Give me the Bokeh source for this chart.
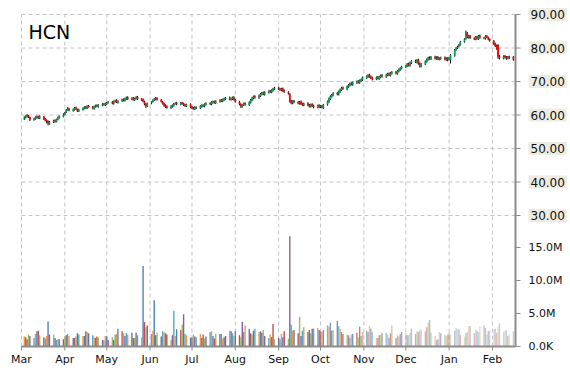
import math
import pandas as pd
from bokeh.plotting import figure
from bokeh.models import Range1d, Label, ColumnDataSource
from bokeh.embed import file_html
from bokeh.resources import INLINE

symbol = "HCN"

month_starts = ["2014-03-01", "2014-04-01", "2014-05-01", "2014-06-01", "2014-07-01", "2014-08-01",
                "2014-09-01", "2014-10-01", "2014-11-01", "2014-12-01", "2015-01-01", "2015-02-01"]

# daily open / high / low / close (USD) and volume (millions), by month
mar = dict(
    o=[58.9, 59.3, 59.5, 59.8, 59.3, 58.5, 58.9, 59.2, 59.6, 59.0, 59.5, 58.9, 58.5, 58.2, 57.4, 57.8, 58.4, 58.0, 58.6, 59.1, 59.5],
    h=[59.6, 59.9, 60.3, 60.0, 59.5, 59.2, 59.6, 59.8, 59.8, 59.9, 59.7, 59.1, 58.7, 58.4, 58.2, 58.6, 58.7, 58.9, 59.5, 59.9, 60.5],
    l=[58.5, 59.0, 59.2, 59.1, 58.2, 58.3, 58.6, 58.9, 58.8, 58.8, 58.5, 58.1, 57.5, 56.9, 57.1, 57.6, 57.7, 57.8, 58.4, 58.9, 59.3],
    c=[59.2, 59.6, 59.9, 59.4, 58.6, 58.9, 59.3, 59.5, 59.1, 59.6, 58.8, 58.4, 57.9, 57.5, 57.9, 58.3, 58.1, 58.7, 59.2, 59.6, 60.1],
    v=[1.5, 1.4, 1.1, 1.8, 1.6, 1.3, 1.9, 2.3, 2.4, 1.7, 1.4, 1.2, 1.6, 3.8, 1.8, 1.8, 1.3, 1.0, 1.1, 1.1, 1.1])
apr = dict(
    o=[60.1, 60.8, 61.6, 61.9, 61.3, 61.6, 62.2, 61.7, 61.1, 61.5, 61.9, 62.4, 62.0, 62.7, 62.5, 61.9, 62.4, 62.9, 62.5, 62.8, 63.3, 62.9],
    h=[60.9, 61.8, 62.3, 62.2, 61.9, 62.4, 62.5, 61.9, 61.9, 62.3, 62.6, 62.7, 62.9, 63.0, 62.7, 62.8, 63.1, 63.2, 63.2, 63.5, 63.6, 63.7],
    l=[59.9, 60.6, 61.3, 61.1, 61.0, 61.3, 61.5, 60.9, 60.9, 61.3, 61.7, 61.8, 61.8, 62.2, 61.7, 61.6, 62.2, 62.3, 62.2, 62.6, 62.8, 62.7],
    c=[60.6, 61.5, 61.9, 61.4, 61.7, 62.1, 61.8, 61.2, 61.6, 62.0, 62.3, 62.1, 62.6, 62.4, 62.0, 62.5, 62.8, 62.6, 62.9, 63.2, 63.0, 63.4],
    v=[1.5, 1.7, 1.9, 1.6, 1.3, 1.3, 1.5, 2.0, 1.8, 1.6, 1.6, 2.3, 2.2, 2.0, 1.7, 1.4, 1.3, 1.5, 1.4, 1.0, 0.9, 1.6])
may = dict(
    o=[63.3, 63.7, 63.9, 63.4, 64.0, 64.4, 63.7, 64.2, 64.7, 64.3, 64.8, 65.3, 64.7, 65.1, 64.5, 64.8, 65.4, 64.9, 64.6, 64.0, 63.3, 62.7],
    h=[63.9, 64.2, 64.2, 64.3, 64.6, 64.7, 64.4, 64.9, 64.9, 65.2, 65.5, 65.6, 65.3, 65.4, 65.2, 65.6, 65.7, 65.1, 64.9, 64.3, 63.6, 63.7],
    l=[63.0, 63.4, 63.2, 63.1, 63.7, 63.6, 63.4, 63.9, 64.1, 64.0, 64.5, 64.5, 64.4, 64.3, 64.2, 64.6, 64.5, 64.2, 63.8, 62.9, 62.1, 62.4],
    c=[63.6, 63.9, 63.5, 64.0, 64.3, 63.8, 64.1, 64.6, 64.4, 64.9, 65.2, 64.8, 65.0, 64.6, 64.9, 65.3, 64.8, 64.5, 64.1, 63.2, 62.6, 63.4],
    v=[1.5, 1.0, 1.4, 1.0, 1.8, 1.9, 2.7, 2.3, 2.0, 1.6, 2.1, 1.8, 2.1, 1.3, 1.3, 2.1, 1.7, 1.4, 12.2, 3.7, 2.9, 3.2])
jun = dict(
    o=[63.5, 63.9, 64.5, 64.7, 65.1, 64.5, 63.9, 63.5, 62.9, 62.6, 62.1, 62.5, 62.8, 63.4, 63.6, 63.1, 63.7, 63.5, 63.1, 62.6, 63.2],
    h=[64.1, 64.7, 65.1, 65.4, 65.3, 64.8, 64.2, 63.7, 63.2, 62.9, 62.9, 63.2, 63.6, 63.8, 63.9, 63.9, 63.9, 63.7, 63.3, 63.4, 63.5],
    l=[63.2, 63.7, 64.2, 64.4, 64.3, 63.7, 63.1, 62.5, 62.1, 61.9, 61.8, 62.2, 62.5, 63.1, 62.9, 62.9, 63.1, 62.7, 62.4, 62.4, 62.0],
    c=[63.8, 64.4, 64.8, 65.0, 64.6, 64.0, 63.4, 62.8, 62.5, 62.2, 62.6, 62.9, 63.3, 63.5, 63.2, 63.6, 63.4, 63.0, 62.7, 63.1, 62.4],
    v=[1.9, 2.4, 7.0, 1.7, 2.1, 1.5, 2.3, 2.2, 2.0, 1.8, 1.0, 1.7, 5.4, 1.6, 2.6, 2.5, 3.3, 4.9, 1.9, 1.7, 1.4])
jul = dict(
    o=[62.5, 62.1, 61.8, 62.4, 62.0, 62.5, 63.0, 62.6, 63.1, 63.6, 63.2, 63.7, 64.1, 63.6, 64.0, 64.5, 64.1, 64.5, 64.8, 65.2, 64.6, 64.8, 65.3],
    h=[62.7, 62.4, 62.6, 62.6, 62.9, 63.2, 63.2, 63.5, 63.8, 63.8, 64.1, 64.3, 64.3, 64.4, 64.7, 64.8, 64.9, 65.2, 65.4, 65.5, 65.2, 65.5, 65.6],
    l=[61.7, 61.6, 61.5, 61.8, 61.8, 62.2, 62.4, 62.3, 62.8, 63.0, 62.9, 63.4, 63.4, 63.3, 63.7, 63.9, 63.8, 64.2, 64.5, 64.4, 64.3, 64.5, 64.3],
    c=[62.0, 61.9, 62.3, 62.1, 62.6, 62.9, 62.7, 63.2, 63.5, 63.3, 63.8, 64.0, 63.7, 64.1, 64.4, 64.2, 64.6, 64.9, 65.1, 64.7, 64.9, 65.2, 64.6],
    v=[1.3, 1.8, 1.5, 1.4, 1.9, 1.3, 1.8, 1.2, 1.5, 2.2, 2.3, 1.6, 1.2, 1.9, 1.9, 1.9, 1.2, 1.4, 1.6, 2.4, 2.3, 2.0, 1.6])
aug = dict(
    o=[64.5, 63.9, 63.3, 62.5, 63.0, 63.5, 63.0, 63.7, 64.4, 65.0, 65.6, 65.1, 65.7, 66.2, 66.7, 66.1, 66.7, 67.2, 66.8, 67.3, 67.7],
    h=[64.8, 64.2, 63.5, 63.2, 63.7, 63.8, 64.1, 64.8, 65.4, 65.8, 65.9, 66.1, 66.6, 66.9, 67.0, 67.1, 67.4, 67.5, 67.7, 68.1, 68.4],
    l=[63.7, 62.9, 62.1, 62.2, 62.7, 62.8, 62.7, 63.4, 64.1, 64.7, 64.9, 64.8, 65.4, 65.9, 65.9, 65.8, 66.4, 66.6, 66.5, 67.0, 67.4],
    c=[64.0, 63.2, 62.6, 62.9, 63.4, 63.1, 63.8, 64.5, 65.1, 65.5, 65.2, 65.8, 66.3, 66.6, 66.2, 66.8, 67.1, 66.9, 67.4, 67.8, 68.0],
    v=[2.3, 1.7, 1.4, 3.7, 2.2, 3.2, 2.7, 2.0, 1.8, 2.4, 2.7, 2.2, 2.3, 2.1, 2.5, 1.6, 1.3, 1.8, 1.4, 3.4, 1.1])
sep = dict(
    o=[68.1, 67.8, 67.4, 67.9, 67.3, 66.8, 66.2, 64.1, 63.5, 64.2, 63.9, 63.4, 64.0, 63.4, 62.9, 63.5, 63.0, 62.5, 63.2, 62.8, 62.3, 62.9],
    h=[68.4, 68.1, 68.1, 68.2, 67.6, 67.1, 66.5, 64.5, 64.4, 64.5, 64.2, 64.2, 64.3, 63.7, 63.7, 63.8, 63.3, 63.4, 63.5, 63.1, 63.1, 63.2],
    l=[67.5, 67.2, 67.1, 66.9, 66.6, 66.1, 63.7, 63.2, 63.2, 63.5, 63.2, 63.1, 63.0, 62.7, 62.6, 62.6, 62.3, 62.2, 62.4, 62.0, 62.0, 62.1],
    c=[67.9, 67.5, 67.8, 67.2, 66.9, 66.4, 64.0, 63.6, 64.1, 63.8, 63.5, 63.9, 63.3, 63.0, 63.4, 62.9, 62.6, 63.1, 62.7, 62.4, 62.8, 62.5],
    v=[1.3, 1.1, 1.9, 1.4, 2.3, 1.2, 16.7, 3.3, 2.4, 2.5, 2.0, 4.5, 1.6, 2.4, 2.9, 2.2, 2.5, 2.0, 2.7, 2.7, 2.8, 2.5])
oct_ = dict(
    o=[62.4, 62.7, 62.1, 63.1, 63.9, 64.8, 65.5, 65.9, 66.6, 66.1, 66.9, 67.5, 68.2, 67.7, 68.4, 68.8, 69.5, 69.0, 69.6, 70.1, 69.6, 70.2, 70.5],
    h=[62.9, 63.0, 63.3, 64.3, 65.2, 65.9, 66.3, 66.8, 66.9, 67.3, 67.9, 68.4, 68.5, 68.8, 69.2, 69.7, 69.8, 70.0, 70.3, 70.4, 70.6, 70.9, 71.5],
    l=[62.1, 62.0, 61.8, 62.8, 63.6, 64.5, 65.2, 65.6, 65.9, 65.8, 66.6, 67.2, 67.5, 67.4, 68.1, 68.5, 68.8, 68.7, 69.3, 69.4, 69.3, 69.9, 70.2],
    c=[62.6, 62.2, 63.0, 64.0, 64.9, 65.6, 66.0, 66.5, 66.2, 67.0, 67.6, 68.1, 67.8, 68.5, 68.9, 69.4, 69.1, 69.7, 70.0, 69.7, 70.3, 70.6, 71.2],
    v=[2.3, 2.2, 2.5, 3.2, 3.0, 3.6, 2.4, 2.5, 3.9, 3.1, 2.7, 2.2, 1.9, 1.8, 1.7, 1.3, 1.8, 1.9, 2.1, 1.4, 3.0, 1.6, 2.2])
nov = dict(
    o=[71.0, 71.4, 72.0, 71.5, 71.1, 70.6, 71.3, 70.8, 71.3, 71.9, 71.4, 71.9, 72.4, 71.8, 72.4, 72.9, 72.3, 73.0, 73.5, 73.9],
    h=[71.8, 72.2, 72.3, 71.8, 71.4, 71.5, 71.6, 71.7, 72.1, 72.2, 72.3, 72.6, 72.7, 72.8, 73.1, 73.2, 73.4, 73.9, 74.3, 74.7],
    l=[70.7, 71.1, 71.1, 70.7, 70.3, 70.4, 70.6, 70.5, 71.0, 71.2, 71.1, 71.6, 71.6, 71.5, 72.1, 72.1, 72.0, 72.7, 73.2, 73.6],
    c=[71.5, 71.9, 71.4, 71.0, 70.7, 71.2, 70.9, 71.4, 71.8, 71.5, 72.0, 72.3, 71.9, 72.5, 72.8, 72.4, 73.1, 73.6, 74.0, 74.4],
    v=[2.4, 2.2, 3.1, 2.7, 2.2, 1.3, 1.3, 1.7, 1.8, 2.0, 2.1, 1.8, 1.3, 2.0, 3.2, 1.3, 1.7, 1.5, 1.9, 2.2])
dec = dict(
    o=[74.3, 74.5, 75.3, 74.7, 75.5, 76.2, 75.7, 76.5, 75.4, 74.5, 75.1, 75.9, 76.5, 77.2, 76.7, 77.4, 76.8, 77.3, 76.6, 76.8, 77.2, 76.5, 77.0],
    h=[74.9, 75.5, 75.6, 75.9, 76.4, 76.5, 76.7, 76.8, 75.7, 75.5, 76.3, 76.9, 77.4, 77.5, 77.6, 77.7, 77.5, 77.6, 77.2, 77.4, 77.5, 77.2, 77.3],
    l=[74.0, 74.3, 74.5, 74.4, 75.2, 75.5, 75.4, 75.0, 74.2, 74.2, 74.9, 75.6, 76.2, 76.5, 76.4, 76.6, 76.5, 76.4, 76.3, 76.5, 76.3, 76.2, 76.0],
    c=[74.6, 75.2, 74.8, 75.6, 76.1, 75.8, 76.4, 75.3, 74.6, 75.2, 76.0, 76.6, 77.1, 76.8, 77.3, 76.9, 77.2, 76.7, 76.9, 77.1, 76.6, 76.9, 76.4],
    v=[2.1, 1.7, 1.7, 2.1, 2.7, 1.9, 2.3, 2.2, 2.4, 2.6, 2.3, 2.9, 3.6, 4.0, 2.1, 1.6, 1.0, 1.1, 2.2, 2.0, 1.7, 1.6, 1.8])
jan = dict(
    o=[76.6, 76.4, 77.7, 79.5, 80.0, 80.5, 81.0, 81.9, 82.8, 84.5, 83.1, 83.7, 82.9, 82.6, 83.4, 82.7, 83.7, 83.0, 82.8, 83.6, 83.1, 82.7],
    h=[77.3, 78.2, 79.7, 80.3, 80.7, 81.2, 82.1, 82.9, 85.2, 84.8, 83.9, 83.9, 83.2, 83.6, 83.6, 83.9, 84.0, 83.3, 83.8, 83.9, 83.4, 82.9],
    l=[76.3, 75.4, 77.4, 79.2, 79.7, 80.2, 80.7, 81.6, 82.5, 82.9, 82.8, 82.7, 82.4, 82.3, 82.5, 82.4, 82.8, 82.6, 82.5, 83.0, 82.3, 81.9],
    c=[77.0, 77.9, 79.4, 79.9, 80.4, 80.9, 81.8, 82.6, 84.4, 83.2, 83.6, 83.0, 82.7, 83.3, 82.8, 83.6, 83.1, 82.9, 83.5, 83.2, 82.6, 82.2],
    v=[2.1, 1.8, 2.4, 2.8, 2.7, 2.6, 1.8, 1.5, 2.0, 2.2, 3.1, 3.1, 2.0, 2.6, 2.4, 2.2, 3.0, 3.2, 2.8, 1.8, 2.3, 2.4])
feb = dict(
    o=[82.1, 81.3, 80.7, 80.9, 77.5, 76.9, 77.6, 77.3, 76.8, 77.4, 77.3],
    h=[82.4, 81.6, 81.0, 81.2, 77.9, 77.8, 77.9, 77.6, 77.6, 77.7, 77.6],
    l=[80.9, 80.3, 79.5, 76.8, 76.6, 76.6, 76.9, 76.5, 76.6, 76.7, 76.2],
    c=[81.2, 80.6, 79.8, 77.4, 77.0, 77.5, 77.2, 76.9, 77.3, 77.0, 76.5],
    v=[2.6, 2.7, 2.1, 2.9, 3.5, 2.2, 2.4, 2.5, 1.6, 1.8, 2.3])

months = [mar, apr, may, jun, jul, aug, sep, oct_, nov, dec, jan, feb]

price_ticks = [30, 40, 50, 60, 70, 80, 90]
volume_ticks = [0, 5e6, 10e6, 15e6]
volume_tick_labels = ["0.0K", "5.0M", "10.0M", "15.0M"]
price_lo, price_hi = -9.1, 90.0
vol_hi = 50.3e6

volume_palette = ["#4F81BD", "#C0504D", "#9BBB59", "#8064A2", "#4BACC6", "#F79646"]
palette_offset = 5
month_alpha = [1.0, 1.0, 1.0, 1.0, 1.0, 1.0, 1.0, 0.8, 0.62, 0.5, 0.42, 0.38]
up_color, down_color = "#00A651", "#FF0000"
axis_color = "#8c8c8c"
grid_color = "#c4c4c4"
label_bg = "#EEECE1"
text_color = "#111111"
FONT = "DejaVu Sans"

# ---- layout (pixels) ----
W, H = 568, 368
PX_LEFT, PX_TOP = 21, 14          # plot area top-left
PX_AXIS_X, PX_AXIS_Y = 515, 346   # right value axis / bottom date axis

t_start = pd.Timestamp("2014-03-01")
t_axis = pd.Timestamp("2015-02-17 12:00")
time_per_px = (t_axis - t_start) / (PX_AXIS_X - PX_LEFT)
ppu = (PX_AXIS_Y - PX_TOP) / (price_hi - price_lo)
vpp = vol_hi / (PX_AXIS_Y - PX_TOP)


def price_at(py):
    return price_hi - (py - PX_TOP) / ppu


def time_at(px):
    return t_start + (px - PX_LEFT) * time_per_px


x_range = Range1d(t_start - PX_LEFT * time_per_px, t_axis + (W - PX_AXIS_X) * time_per_px)
y_range = Range1d(price_at(H), price_at(0))
vol_range = Range1d(-(H - PX_AXIS_Y) * vpp, vol_hi + PX_TOP * vpp)

# ---- assemble ----
X, O, Hh, L, C, TOP, BOT, CCOL = [], [], [], [], [], [], [], []
V, VCOL, VALPHA = [], [], []
k = 0
for mi, (start, m) in enumerate(zip(month_starts, months)):
    s = pd.Timestamp(start)
    days = pd.bdate_range(s, s + pd.offsets.MonthEnd(0))[:len(m["c"])]
    for d, o, h, l, c, v in zip(days, m["o"], m["h"], m["l"], m["c"], m["v"]):
        X.append(d)
        O.append(o); Hh.append(h); L.append(l); C.append(c)
        TOP.append(max(o, c)); BOT.append(min(o, c))
        CCOL.append(up_color if c >= o else down_color)
        V.append(v * 1e6)
        VCOL.append(volume_palette[(k + palette_offset) % len(volume_palette)])
        VALPHA.append(month_alpha[mi])
        k += 1

src = ColumnDataSource(dict(x=X, o=O, h=Hh, l=L, c=C, top=TOP, bot=BOT, col=CCOL,
                            v=V, vcol=VCOL, valpha=VALPHA))
month_dates = [pd.Timestamp(s) for s in month_starts]
n_m, n_p = len(month_dates), len(price_ticks)

DAY = 86400000
p = figure(width=W, height=H, x_axis_location=None, y_axis_location=None,
           x_range=x_range, y_range=y_range,
           output_backend="svg", toolbar_location=None,
           min_border_left=0, min_border_top=0, min_border_right=0, min_border_bottom=0)
p.extra_y_ranges = {"vol": vol_range}
p.outline_line_color = None
p.background_fill_color = "white"
p.border_fill_color = "white"
p.xgrid.visible = False
p.ygrid.visible = False

# dashed grid: month verticals and price horizontals
p.segment(x0=month_dates, x1=month_dates, y0=[price_lo] * n_m, y1=[price_hi] * n_m,
          line_color=grid_color, line_dash="4 3", line_width=1)
p.segment(x0=[t_start] * n_p, x1=[t_axis] * n_p, y0=price_ticks, y1=price_ticks,
          line_color=grid_color, line_dash="4 3", line_width=1)

# volume bars
p.vbar(x="x", width=1.0 * DAY, top="v", bottom=0, y_range_name="vol", source=src,
       fill_color="vcol", fill_alpha="valpha", line_color=None)
# candles
p.segment(x0="x", y0="l", x1="x", y1="h", source=src, line_color="black", line_width=1)
p.vbar(x="x", width=1.25 * DAY, top="top", bottom="bot", source=src,
       fill_color="col", line_color=None)

# axes lines
p.segment(x0=[t_start, t_axis], x1=[t_axis, t_axis], y0=[price_lo, price_lo], y1=[price_lo, price_hi],
          line_color=axis_color, line_width=2)
# tick marks
p.ray(x=[t_axis] * n_p, y=price_ticks, length=5, length_units="screen",
      angle=0, line_color=axis_color, line_width=1)
p.ray(x=[t_axis] * len(volume_ticks), y=volume_ticks, length=5, length_units="screen",
      angle=0, line_color=axis_color, line_width=1, y_range_name="vol")
p.ray(x=month_dates, y=[price_lo] * n_m, length=4, length_units="screen",
      angle=-math.pi / 2, line_color=axis_color, line_width=1)

# tick labels
for t in price_ticks:
    p.add_layout(Label(x=t_axis, y=t, x_offset=13, text=f"{t:.2f}",
                       text_align="left", text_baseline="middle",
                       text_font=FONT, text_font_size="12px", text_color=text_color,
                       background_fill_color=label_bg, padding=2))
for t, s in zip(volume_ticks, volume_tick_labels):
    p.add_layout(Label(x=t_axis, y=t, x_offset=13, y_range_name="vol", text=s,
                       text_align="left", text_baseline="middle",
                       text_font=FONT, text_font_size="11px", text_color=text_color))
for d in month_dates:
    p.add_layout(Label(x=d, y=price_at(PX_AXIS_Y + 13), text=d.strftime("%b"),
                       text_align="center", text_baseline="middle",
                       text_font=FONT, text_font_size="11px", text_color=text_color))

# ticker symbol
p.add_layout(Label(x=time_at(28), y=price_at(31.5), text=symbol,
                   text_align="left", text_baseline="middle",
                   text_font=FONT, text_font_size="19px", text_color="black"))

open("out.html", "w").write(file_html(p, INLINE))
